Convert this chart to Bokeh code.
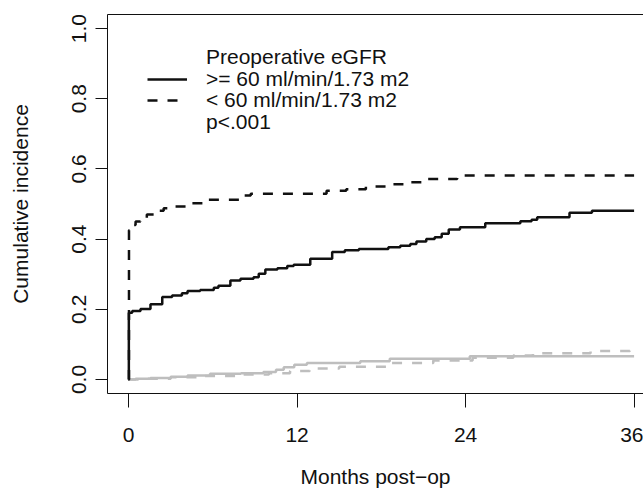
from bokeh.plotting import figure
from bokeh.models import Range1d, FixedTicker, Legend, LegendItem, LinearAxis
from bokeh.embed import file_html
from bokeh.resources import INLINE

# ---- data ----
x_ticks = [0, 12, 24, 36]
y_ticks = [0.0, 0.2, 0.4, 0.6, 0.8, 1.0]
y_tick_labels = ["0.0", "0.2", "0.4", "0.6", "0.8", "1.0"]

# Event of interest, eGFR >= 60 (solid black)
t_ge60 = [0, 0.02, 0.26, 0.85, 1.56, 2.4, 3.1, 3.8, 4.2, 5.1, 6.07, 6.4, 7.25, 7.97,
          8.9, 9.27, 9.74, 10.6, 11.3, 11.76, 12.94, 14.5, 15.4, 16.4, 18.5, 19.35,
          20.06, 20.5, 21.2, 21.8, 22.3, 22.8, 23.6, 25.4, 27.9, 28.7, 29.1, 31.4, 33.0, 36.0]
ci_ge60 = [0, 0.19, 0.195, 0.201, 0.214, 0.235, 0.239, 0.246, 0.252, 0.255, 0.261, 0.267,
           0.282, 0.287, 0.291, 0.301, 0.313, 0.317, 0.323, 0.327, 0.344, 0.363, 0.368,
           0.372, 0.377, 0.381, 0.386, 0.393, 0.4, 0.405, 0.415, 0.427, 0.434, 0.445,
           0.451, 0.455, 0.462, 0.475, 0.481, 0.481]

# Event of interest, eGFR < 60 (dashed black)
t_lt60 = [0, 0.03, 0.2, 0.5, 0.85, 1.3, 1.8, 2.5, 3.1, 4.4, 5.6, 8.2, 8.7, 14.1, 15.5,
          16.9, 18.4, 20.1, 21.0, 23.4, 36.0]
ci_lt60 = [0, 0.425, 0.44, 0.45, 0.458, 0.47, 0.481, 0.488, 0.493, 0.502, 0.512, 0.524,
           0.529, 0.538, 0.542, 0.55, 0.556, 0.562, 0.571, 0.581, 0.581]

# Competing event, eGFR >= 60 (solid gray)
t_ge60_c = [0, 0.5, 1.56, 3.0, 4.2, 5.8, 8.0, 9.6, 10.5, 11.05, 11.8, 12.7, 16.5, 18.6, 24.3, 36.0]
ci_ge60_c = [0, 0.002, 0.004, 0.008, 0.011, 0.016, 0.018, 0.021, 0.028, 0.035, 0.042,
             0.047, 0.052, 0.059, 0.066, 0.066]

# Competing event, eGFR < 60 (dashed gray)
t_lt60_c = [0, 1.0, 3.0, 5.0, 8.0, 10.0, 11.5, 12.9, 15.0, 18.6, 21.7, 24.5, 27.4, 28.8,
            32.9, 35.7, 36.0]
ci_lt60_c = [0, 0.002, 0.006, 0.01, 0.014, 0.018, 0.024, 0.031, 0.036, 0.047, 0.054,
             0.062, 0.068, 0.075, 0.081, 0.087, 0.087]

legend_title = "Preoperative eGFR"
legend_labels = [">= 60 ml/min/1.73 m2", "< 60 ml/min/1.73 m2"]
p_value_text = "p<.001"

FONT = "Liberation Sans"
FS = "21px"
GRAY = "#BEBEBE"
BLACK = "#111111"

p = figure(width=643, height=494, output_backend="svg", toolbar_location=None,
           x_range=Range1d(-1.5, 36.67), y_range=Range1d(-0.04, 1.04),
           min_border_left=107, min_border_right=0, min_border_top=14, min_border_bottom=101)
p.outline_line_color = None
p.grid.visible = False
p.background_fill_color = "white"
p.border_fill_color = "white"

# top edge of the box
top_axis = LinearAxis(ticker=FixedTicker(ticks=[]), axis_line_color=BLACK, axis_line_width=1,
                      major_tick_line_color=None, minor_tick_line_color=None,
                      major_label_text_font_size="0px", major_label_standoff=0)
p.add_layout(top_axis, "above")

r_gc = p.step(t_ge60_c, ci_ge60_c, mode="after", line_color=GRAY, line_width=2.5)
r_lc = p.step(t_lt60_c, ci_lt60_c, mode="after", line_color=GRAY, line_width=2.5, line_dash="10 10")
r_g = p.step(t_ge60, ci_ge60, mode="after", line_color=BLACK, line_width=2.5)
r_l = p.step(t_lt60, ci_lt60, mode="after", line_color=BLACK, line_width=2.5, line_dash="10 10")
r_blank = p.line(x=[], y=[], line_alpha=0)

xax = p.below[0]
yax = p.left[0]

for ax in (xax, yax):
    ax.axis_line_color = BLACK
    ax.axis_line_width = 1
    ax.major_tick_line_color = BLACK
    ax.major_tick_in = 0
    ax.minor_tick_line_color = None
    ax.major_label_text_font = FONT
    ax.major_label_text_font_size = FS
    ax.major_label_text_color = BLACK
    ax.axis_label_text_font = FONT
    ax.axis_label_text_font_size = FS
    ax.axis_label_text_font_style = "normal"
    ax.axis_label_text_color = BLACK

xax.ticker = FixedTicker(ticks=x_ticks)
xax.major_tick_out = 14
xax.major_label_standoff = 20
xax.axis_label = "Months post\u2212op"
xax.axis_label_standoff = 20

yax.ticker = FixedTicker(ticks=y_ticks)
yax.major_label_overrides = {t: l for t, l in zip(y_ticks, y_tick_labels)}
yax.major_tick_out = 12
yax.major_label_orientation = "vertical"
yax.major_label_standoff = 9
yax.axis_label = "Cumulative incidence"
yax.axis_label_standoff = 38

# legend: one row per Legend so that the row pitch matches the reference
legend_rows = [
    (legend_title, r_blank),
    (legend_labels[0], r_g),
    (legend_labels[1], r_l),
    (p_value_text, r_blank),
]
row_bottoms = [324, 302, 281, 259]   # screen px above the frame bottom
for (lab, rend), yb in zip(legend_rows, row_bottoms):
    lg = Legend(items=[LegendItem(label=lab, renderers=[rend])], location=(40, yb))
    lg.border_line_color = None
    lg.background_fill_alpha = 0
    lg.padding = 0
    lg.margin = 0
    lg.spacing = 0
    lg.glyph_width = 40
    lg.glyph_height = 22
    lg.label_height = 22
    lg.label_standoff = 19
    lg.label_text_font = FONT
    lg.label_text_font_size = FS
    lg.label_text_color = BLACK
    p.add_layout(lg)

open("out.html", "w").write(file_html(p, INLINE))
